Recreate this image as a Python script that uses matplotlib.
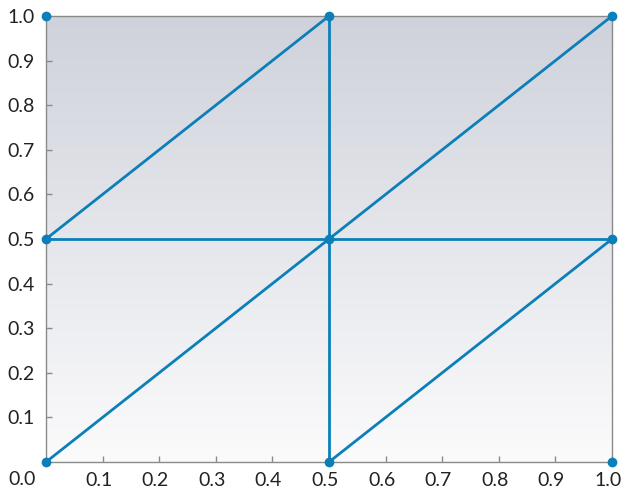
import numpy as np
import matplotlib
matplotlib.use("Agg")
import matplotlib.pyplot as plt
import matplotlib.transforms as mtransforms
from matplotlib.colors import LinearSegmentedColormap

# Mesh vertices of the unit square split at 0.5
node_x = [0.0, 0.5, 1.0, 0.0, 0.5, 1.0, 0.0, 0.5, 1.0]
node_y = [0.0, 0.0, 0.0, 0.5, 0.5, 0.5, 1.0, 1.0, 1.0]
# Interior edges of the triangulation (pairs of vertex indices)
edges = [(0, 4), (4, 8), (3, 7), (1, 5), (3, 4), (4, 5), (1, 4), (4, 7)]

x_ticks = [0.1, 0.2, 0.3, 0.4, 0.5, 0.6, 0.7, 0.8, 0.9, 1.0]
y_ticks = [0.1, 0.2, 0.3, 0.4, 0.5, 0.6, 0.7, 0.8, 0.9, 1.0]
tick_labels = ["0.1", "0.2", "0.3", "0.4", "0.5", "0.6", "0.7", "0.8", "0.9", "1.0"]

plt.rcParams['font.family'] = ['Lato', 'DejaVu Sans']

fig = plt.figure(figsize=(6.24, 4.93), dpi=100)
ax = fig.add_axes([46/624, 31/493, 566/624, 446/493])

# vertical background gradient
cmap = LinearSegmentedColormap.from_list("bg", ["#fbfbfc", "#cfd2db"])
grad = np.linspace(0, 1, 256).reshape(-1, 1)
ax.imshow(grad, extent=[0, 1, 0, 1], origin="lower", cmap=cmap,
          aspect="auto", zorder=0, interpolation="bicubic")

line_color = "#0c7fb8"
for a, b in edges:
    ax.plot([node_x[a], node_x[b]], [node_y[a], node_y[b]],
            color=line_color, lw=2, solid_capstyle="round", zorder=2)
ax.plot(node_x, node_y, "o", color=line_color, ms=6, zorder=3, clip_on=False)

ax.set_xlim(0, 1)
ax.set_ylim(0, 1)
ax.set_xticks(x_ticks)
ax.set_yticks(y_ticks)
ax.set_xticklabels(tick_labels)
ax.set_yticklabels(tick_labels)
for s in ax.spines.values():
    s.set_color("#8a8a8a")
    s.set_linewidth(1)
ax.tick_params(direction="in", length=4, width=1, color="#8a8a8a",
               labelsize=14, labelcolor="#222222")
ax.tick_params(axis="x", pad=7)
ax.tick_params(axis="y", pad=8)

shift = mtransforms.ScaledTranslation(-4/100, 0, fig.dpi_scale_trans)
for lbl in ax.get_xticklabels():
    lbl.set_transform(lbl.get_transform() + shift)

ax.text(-0.042, -0.04, "0.0", transform=ax.transAxes, ha="center", va="center",
        fontsize=14, color="#222222")

fig.savefig("out.png", dpi=100)
